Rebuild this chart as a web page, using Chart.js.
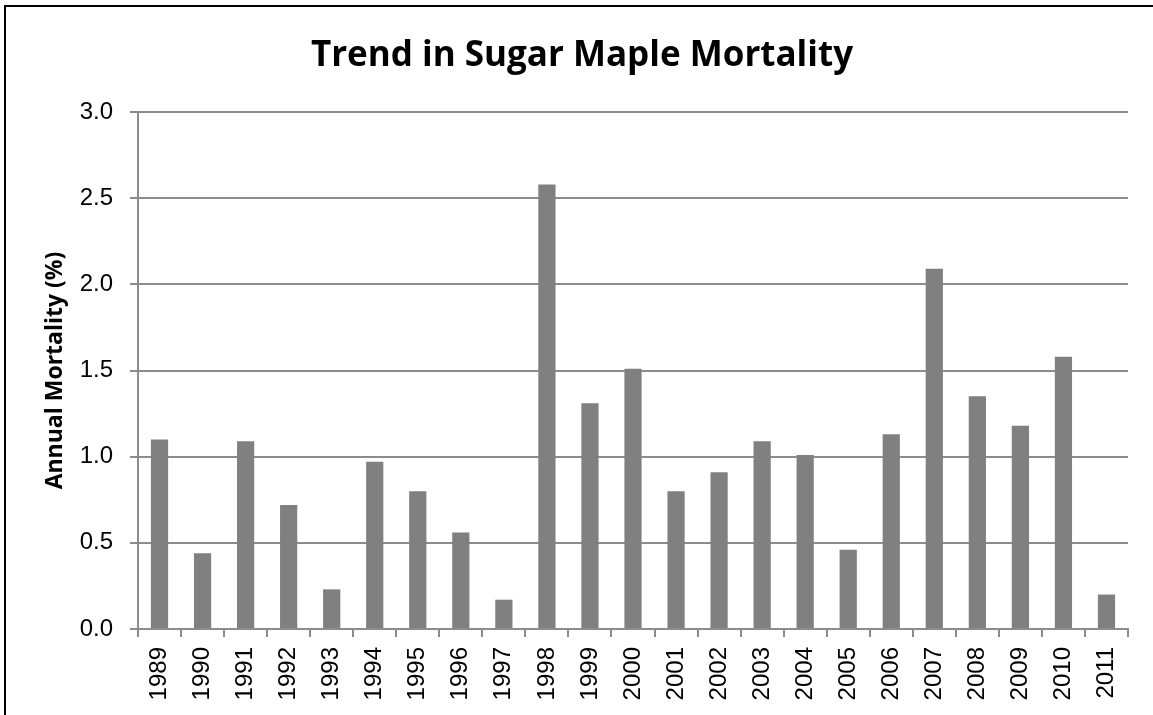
<!DOCTYPE html>
<html>
<head>
<meta charset="utf-8">
<script src="https://cdn.jsdelivr.net/npm/chart.js@4.4.1/dist/chart.umd.min.js"></script>
<style>
  html, body { margin: 0; padding: 0; background: #fff; overflow: hidden; }
  #frame {
    position: absolute; left: 4px; top: 5px;
    width: 1200px; height: 760px;
    border: 2.5px solid #000;
  }
  #wrap { position: absolute; left: 0; top: 0; width: 1153px; height: 715px; }
</style>
</head>
<body>
<div id="frame"></div>
<div id="wrap"><canvas id="chart-mort"></canvas></div>
<script>
// annual sugar maple mortality, percent per year
const years = ['1989', '1990', '1991', '1992', '1993', '1994', '1995', '1996', '1997', '1998', '1999', '2000',
               '2001', '2002', '2003', '2004', '2005', '2006', '2007', '2008', '2009', '2010', '2011'];
const mortality = [1.10, 0.44, 1.09, 0.72, 0.23, 0.97, 0.80, 0.56, 0.17, 2.58, 1.31, 1.51,
                   0.80, 0.91, 1.09, 1.01, 0.46, 1.13, 2.09, 1.35, 1.18, 1.58, 0.20];
const yTicks = [0, 0.5, 1.0, 1.5, 2.0, 2.5, 3.0];

const gridGrey = '#8c8c8c';
const tickFont = { family: "'Liberation Sans', Arial, sans-serif", size: 24 };
const boldFont = "'Open Sans', 'Noto Sans', sans-serif";

var chartData = {
    labels: years,
    datasets: [{
        label: 'Annual Mortality',
        data: mortality,
        backgroundColor: '#808080',
        borderWidth: 0,
        barPercentage: 0.4,
        categoryPercentage: 1.0
    }]
};

var options = {
    responsive: false,
    animation: false,
    layout: { padding: { left: 11, right: 0, top: 0, bottom: 0 } },
    scales: {
        x: {
            type: 'category',
            offset: true,
            grid: {
                offset: true,
                drawOnChartArea: false,
                drawTicks: true,
                tickLength: 8,
                color: gridGrey,
                lineWidth: 2
            },
            border: { display: true, color: gridGrey, width: 2 },
            ticks: {
                autoSkip: false,
                minRotation: 90,
                maxRotation: 90,
                padding: 10,
                color: '#000',
                font: tickFont
            },
            afterFit: function(scale) { scale.height = 86; }
        },
        y: {
            min: 0,
            max: 3,
            afterBuildTicks: function(scale) {
                scale.ticks = yTicks.map(v => ({ value: v }));
            },
            grid: {
                drawTicks: true,
                tickLength: 8,
                color: gridGrey,
                lineWidth: 2
            },
            border: { display: true, color: gridGrey, width: 2 },
            ticks: {
                padding: 17,
                color: '#000',
                font: tickFont,
                callback: function(value) { return value.toFixed(1); }
            },
            title: {
                display: true,
                text: 'Annual Mortality (%)',
                color: '#000',
                padding: { top: 31, bottom: 0 },
                font: { family: boldFont, weight: 'bold', size: 23 }
            },
            afterFit: function(scale) { scale.width = 127; }
        },
        // empty strip on the right so the plot ends short of the edge
        yRight: {
            position: 'right',
            min: 0,
            max: 3,
            grid: { display: false },
            border: { display: false },
            ticks: { display: false },
            afterFit: function(scale) { scale.width = 25; }
        }
    },
    plugins: {
        legend: { display: false },
        tooltip: { enabled: false },
        title: {
            display: true,
            text: 'Trend in Sugar Maple Mortality',
            color: '#000',
            padding: { top: 35, bottom: 35 },
            font: { family: boldFont, weight: 'bold', size: 35 }
        }
    }
};

var ctx_mort = document.getElementById('chart-mort');
ctx_mort.width = 1153;
ctx_mort.height = 715;
var myChart_mort = new Chart(ctx_mort, { type: 'bar', data: chartData, options: options });
</script>
</body>
</html>
